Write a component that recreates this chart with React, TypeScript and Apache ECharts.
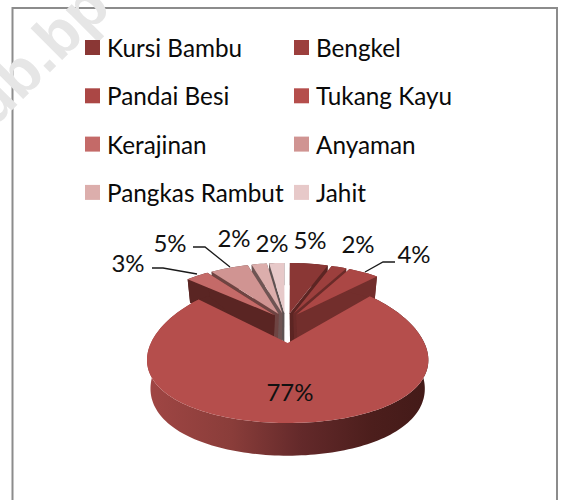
import React, { useEffect, useRef } from "react";
import * as echarts from "echarts";

const categories = ["Kursi Bambu", "Bengkel", "Pandai Besi", "Tukang Kayu", "Kerajinan", "Anyaman", "Pangkas Rambut", "Jahit"];
const values = [5, 2, 4, 77, 3, 5, 2, 2];
const topColors = ["#8a3735", "#9c3f3d", "#ab4745", "#b54e4c", "#c46a68", "#d09492", "#dcaeac", "#e7c9c9"];
const wallColors = ["#5c2523", "#6a2b29", "#722e2c", "#7a3533", "#5a2523", "#6e4442", "#6e5453", "#5f5252"];
const leftLegend = ["Kursi Bambu", "Pandai Besi", "Kerajinan", "Pangkas Rambut"];
const rightLegend = ["Bengkel", "Tukang Kayu", "Anyaman", "Jahit"];
const labelPos = [[310, 239], [358, 243], [414, 253], [290, 391], [128, 262], [170, 242], [234, 237], [272, 242]];
const leaders: Record<number, number[][]> = {
  2: [[395, 262], [383, 262], [365, 272]],
  4: [[152, 268], [163, 268], [197, 274]],
  5: [[193, 247], [205, 247], [230, 267]],
};
const FONT = "Lato, Carlito, 'Open Sans', sans-serif";
const total = values.reduce((a, b) => a + b, 0);
const starts = values.map((_, i) => values.slice(0, i).reduce((a, b) => a + b, 0) / total * Math.PI * 2);
const ends = values.map((_, i) => values.slice(0, i + 1).reduce((a, b) => a + b, 0) / total * Math.PI * 2);

const EX = 0.15;
function project(theta: number, r: number, mid: number, drop = false, bulge = false) {
  const u = r * Math.sin(theta) + EX * Math.sin(mid);
  const v = -r * Math.cos(theta) - EX * Math.cos(mid);
  const d = v - 0.15;
  let y = 343 + 72 * d + 8 * d * d;
  if (bulge) y += 10 * Math.max(0, 1 - d * d);
  const s = 1 + 0.1 * d;
  const x = 140 * u * s;
  if (drop) return [287 + x * 0.975, y + 27.5 + 4.5 * v];
  return [287 + x, y];
}

function makeItem(i: number) {
  const a0 = starts[i], a1 = ends[i], mid = (a0 + a1) / 2;
  const big = values[i] > 50;
  const arc: number[][] = [], arcLow: number[][] = [];
  const n = Math.max(2, Math.ceil((a1 - a0) / 0.03));
  const nudge = !big && mid > Math.PI ? -1.5 : 0;
  for (let k = 0; k <= n; k++) {
    const t = a0 + (a1 - a0) * k / n;
    const p = project(t, 1, mid, false, big);
    const q = project(t, 1, mid, true, big);
    arc.push([p[0] + nudge, p[1]]);
    arcLow.push([q[0] + nudge, q[1]]);
  }
  const apex0 = project(0, 0, mid), apexLow0 = project(0, 0, mid, true);
  const apexLow = [apexLow0[0] + nudge, apexLow0[1]];
  const apex = big ? apex0 : [apex0[0] - Math.sin(mid) * 3 + nudge, apex0[1] - 9];
  const children: any[] = [];
  if (!big) {
    children.push({ type: "polygon", shape: { points: [apex, arc[0], arcLow[0], apexLow] }, style: { fill: wallColors[i] } });
    children.push({ type: "polygon", shape: { points: [apex, arc[n], arcLow[n], apexLow] }, style: { fill: wallColors[i] } });
  }
  children.push({
    type: "polygon",
    shape: { points: [...arc, ...arcLow.slice().reverse()] },
    style: {
      fill: big
        ? new echarts.graphic.LinearGradient(0, 0, 1, 0, [
            { offset: 0, color: "#a04644" }, { offset: 0.3, color: "#8a3d3a" },
            { offset: 0.55, color: "#63292a" }, { offset: 0.8, color: "#4c1e1c" }, { offset: 1, color: "#431a18" },
          ])
        : wallColors[i],
    },
  });
  children.push({ type: "polygon", shape: { points: [apex, ...arc] }, style: { fill: topColors[i] } });
  if (leaders[i]) {
    children.push({ type: "polyline", shape: { points: leaders[i] }, style: { stroke: "#1a1a1a", lineWidth: 1.3, fill: "none" } });
  }
  children.push({
    type: "text",
    style: {
      text: `${values[i]}%`, x: labelPos[i][0], y: labelPos[i][1], align: "center", verticalAlign: "middle",
      font: `24px ${FONT}`, fill: "#111111",
    },
  });
  return { type: "group", children };
}

const drawOrder = [0, 7, 1, 6, 2, 5, 4, 3];

export default function App() {
  const ref = useRef<HTMLDivElement>(null);
  useEffect(() => {
    const chart = echarts.init(ref.current!, undefined, { renderer: "svg" });
    const legendBase = {
      orient: "vertical" as const, itemWidth: 15, itemHeight: 15, itemGap: 19.3, icon: "rect",
      textStyle: { fontFamily: FONT, fontSize: 24.3, color: "#0a0a0a", lineHeight: 29, padding: [0, 0, 0, 2] }, selectedMode: false,
    };
    const entry = (name: string) => ({ name, itemStyle: { color: topColors[categories.indexOf(name)] } });
    chart.setOption({
      animation: false,
      backgroundColor: "#ffffff",
      legend: [
        { ...legendBase, left: 80, top: 28, data: leftLegend.map(entry) },
        { ...legendBase, left: 289, top: 28, data: rightLegend.map(entry) },
      ],
      graphic: [
        { type: "polyline", z: -2, shape: { points: [[12.5, 500], [12.5, 8], [557, 8], [557, 500]] }, style: { stroke: "#8c8c8c", lineWidth: 2, fill: "none" } },
        { type: "text", z: -1, x: 38, y: 54, rotation: Math.PI / 4, style: { text: "ub.bp", x: 0, y: 0, align: "center", verticalAlign: "middle", font: "bold 62px 'Liberation Sans'", fill: "#e6e6e6" } },
      ],
      series: drawOrder.map((i) => ({
        type: "custom",
        name: categories[i],
        coordinateSystem: "none",
        itemStyle: { color: topColors[i] },
        data: [[values[i]]],
        renderItem: () => makeItem(i),
      })),
    });
    return () => chart.dispose();
  }, []);
  return <div ref={ref} style={{ position: "fixed", left: 0, top: 0, width: 561, height: 500 }} />;
}
